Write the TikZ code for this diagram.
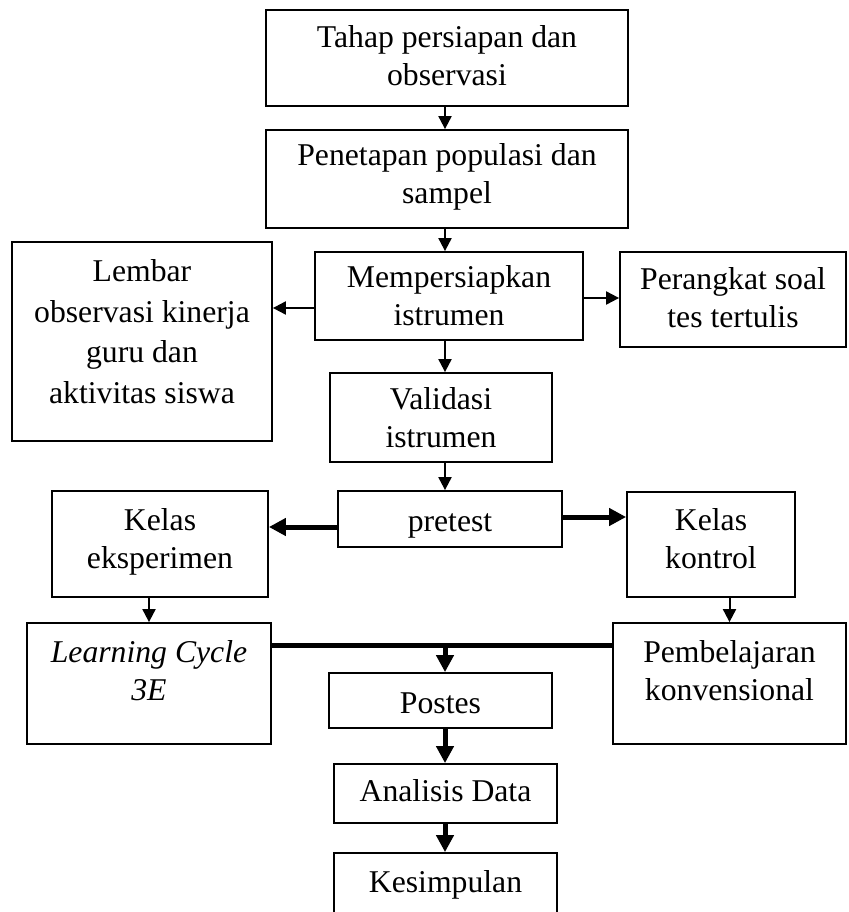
\documentclass[tikz,border=0pt]{standalone}
\usepackage{fontspec}
\setmainfont{Liberation Serif}
\usetikzlibrary{positioning, arrows.meta, calc}

\begin{document}
\begin{tikzpicture}[
  x=1pt, y=-1pt,
  every node/.style={font=\fontsize{31.7}{38}\selectfont},
  box/.style={rectangle, draw=black, line width=1.8pt, inner sep=0pt, align=center,
    execute at begin node=\strut, execute at end node=\strut},
  arr/.style={-{Triangle[length=13pt, width=13pt]}, line width=2pt},
  bigarr/.style={-{Triangle[length=17pt, width=17pt]}, line width=5pt},
  thickline/.style={line width=5pt}
]
\useasboundingbox (0,0) rectangle (848,912);

% central column
\node[box, minimum width=362pt, minimum height=96pt, text depth=4.6pt] (tahap) at (447,58) {Tahap persiapan dan\\observasi};
\node[box, minimum width=362pt, minimum height=98pt] (penetapan) at (447,179) {Penetapan populasi dan\\sampel};
\node[box, minimum width=268pt, minimum height=88pt, text depth=0pt] (siapkan) at (449,296) {Mempersiapkan\\istrumen};
\node[box, minimum width=222pt, minimum height=89pt, text depth=0pt] (validasi) at (441,417.5) {Validasi\\istrumen};
\node[box, minimum width=224pt, minimum height=56pt, text depth=2.6pt] (pretest) at (450,519) {pretest};
\node[box, minimum width=223pt, minimum height=55pt, text depth=0pt] (postes) at (440.5,700.5) {Postes};
\node[box, minimum width=223pt, minimum height=59pt] (analisis) at (445.5,793.5) {Analisis Data};
\node[box, minimum width=223pt, minimum height=64pt] (kesimpulan) at (445.5,885) {Kesimpulan};

% instruments
\node[box, minimum width=260pt, minimum height=199pt, font=\fontsize{31.7}{40.7}\selectfont, text depth=20pt] (lembar) at (142,341.5) {Lembar\\observasi kinerja\\guru dan\\aktivitas siswa};
\node[box, minimum width=226pt, minimum height=95pt, text depth=3.4pt] (perangkat) at (733,299.5) {Perangkat soal\\tes tertulis};

% classes
\node[box, minimum width=216pt, minimum height=106pt] (eksp) at (160,544) {Kelas\\eksperimen};
\node[box, minimum width=168pt, minimum height=105pt] (kontrol) at (711,544.5) {Kelas\\kontrol};
\node[box, minimum width=244pt, minimum height=121pt, text depth=27pt] (lc) at (149,683.5) {\textit{Learning Cycle}\\\textit{3E}};
\node[box, minimum width=233pt, minimum height=121pt, text depth=27pt] (konv) at (729.5,683.5) {Pembelajaran\\konvensional};

\coordinate (axis) at (445,0);
\coordinate (merge) at ([yshift=38.5pt]lc.east -| axis);

\draw[arr] (tahap.south -| axis) -- (penetapan.north -| axis);
\draw[arr] (penetapan.south -| axis) -- (siapkan.north -| axis);
\draw[arr] ([yshift=-12pt]siapkan.west) -- ([yshift=-12pt]siapkan.west -| lembar.east);
\draw[arr] ([yshift=-2pt]siapkan.east) -- ([yshift=-2pt]siapkan.east -| perangkat.west);
\draw[arr] (siapkan.south -| axis) -- (validasi.north -| axis);
\draw[arr] (validasi.south -| axis) -- (pretest.north -| axis);
\draw[bigarr] ([yshift=-8pt]pretest.west) -- ([yshift=-8pt]pretest.west -| eksp.east);
\draw[bigarr] ([yshift=2pt]pretest.east) -- ([yshift=2pt]pretest.east -| kontrol.west);
\draw[arr] (eksp.south -| lc.north) -- (lc.north);
\draw[arr] (kontrol.south -| konv.north) -- (konv.north);
\draw[thickline] ([yshift=38.5pt]lc.east) -- ([yshift=38.5pt]konv.west);
\draw[bigarr] (merge) -- (postes.north -| axis);
\draw[bigarr] (postes.south -| axis) -- (analisis.north -| axis);
\draw[bigarr] (analisis.south -| axis) -- (kesimpulan.north -| axis);
\end{tikzpicture}
\end{document}
